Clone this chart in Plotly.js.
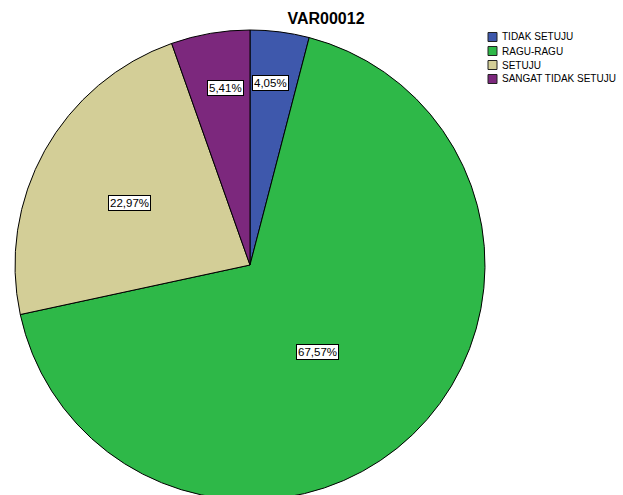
<!DOCTYPE html>
<html>
<head>
<meta charset="utf-8">
<script src="https://cdn.plot.ly/plotly-3.0.1.min.js"></script>
<style>
  html, body { margin: 0; padding: 0; overflow: hidden; background: #fff; }
  #chart { width: 623px; height: 560px; }
</style>
</head>
<body>
<div id="chart"></div>
<script>
// ---- data ----
const chartTitle = 'VAR00012';
const categories = ['TIDAK SETUJU', 'RAGU-RAGU', 'SETUJU', 'SANGAT TIDAK SETUJU'];
const values = [4.05, 67.57, 22.97, 5.41];
const percentLabels = ['4,05%', '67,57%', '22,97%', '5,41%'];
const colors = ['#3E58AC', '#2EB848', '#D3CE97', '#7C287D'];

// ---- layout config ----
const W = 623, H = 560;
const FONT = 'Arial, "Liberation Sans", sans-serif';
const pieBox = { left: 15, right: 485, top: 30, bottom: 500 };
const labelRadius = [0.78, 0.47, 0.575, 0.76];   // fraction of radius
const labelNudgeDeg = [-1, 6, -2, 2];             // small angular tweak
const legendBox = { x: 488, size: 9, textX: 500, firstY: 37, step: 14 };

const px = x => x / W;
const py = y => 1 - y / H;

const cx = (pieBox.left + pieBox.right) / 2;
const cy = (pieBox.top + pieBox.bottom) / 2;
const R = (pieBox.right - pieBox.left) / 2;

const total = values.reduce((a, b) => a + b, 0);

const trace = {
  type: 'pie',
  labels: categories,
  values: values,
  sort: false,
  direction: 'clockwise',
  rotation: 0,
  textinfo: 'none',
  hoverinfo: 'label+percent',
  showlegend: false,
  marker: { colors: colors, line: { color: '#000', width: 1 } },
  domain: { x: [px(pieBox.left), px(pieBox.right)], y: [py(pieBox.bottom), py(pieBox.top)] }
};

const annotations = [];
let cum = 0;
values.forEach((v, i) => {
  const midFrac = (cum + v / 2) / total;
  cum += v;
  const ang = (midFrac * 360 + labelNudgeDeg[i]) * Math.PI / 180;
  const r = R * labelRadius[i];
  const lx = cx + r * Math.sin(ang);
  const ly = cy - r * Math.cos(ang);
  annotations.push({
    xref: 'paper', yref: 'paper', x: px(lx), y: py(ly),
    xanchor: 'center', yanchor: 'middle', showarrow: false,
    text: percentLabels[i],
    font: { family: FONT, size: 11.5, color: '#000' },
    bgcolor: '#fff', bordercolor: '#000', borderwidth: 1, borderpad: 1
  });
});

const shapes = [];
categories.forEach((c, i) => {
  const yc = legendBox.firstY + i * legendBox.step;
  shapes.push({
    type: 'rect', xref: 'paper', yref: 'paper',
    x0: px(legendBox.x), x1: px(legendBox.x + legendBox.size),
    y0: py(yc + legendBox.size / 2), y1: py(yc - legendBox.size / 2),
    fillcolor: colors[i], line: { color: '#222', width: 1 }
  });
  annotations.push({
    xref: 'paper', yref: 'paper', x: px(legendBox.textX), y: py(yc),
    xanchor: 'left', yanchor: 'middle', showarrow: false,
    text: c, font: { family: FONT, size: 10, color: '#000' }
  });
});

const layout = {
  width: W, height: H,
  margin: { l: 0, r: 0, t: 0, b: 0 },
  paper_bgcolor: '#fff',
  title: {
    text: chartTitle,
    font: { family: FONT, size: 16, color: '#000', weight: 'bold' },
    x: 326 / W, xanchor: 'center', xref: 'paper',
    y: 1 - 18 / H, yanchor: 'middle', yref: 'container'
  },
  showlegend: false,
  annotations: annotations,
  shapes: shapes
};

Plotly.newPlot('chart', [trace], layout, { displayModeBar: false, staticPlot: true });
</script>
</body>
</html>
